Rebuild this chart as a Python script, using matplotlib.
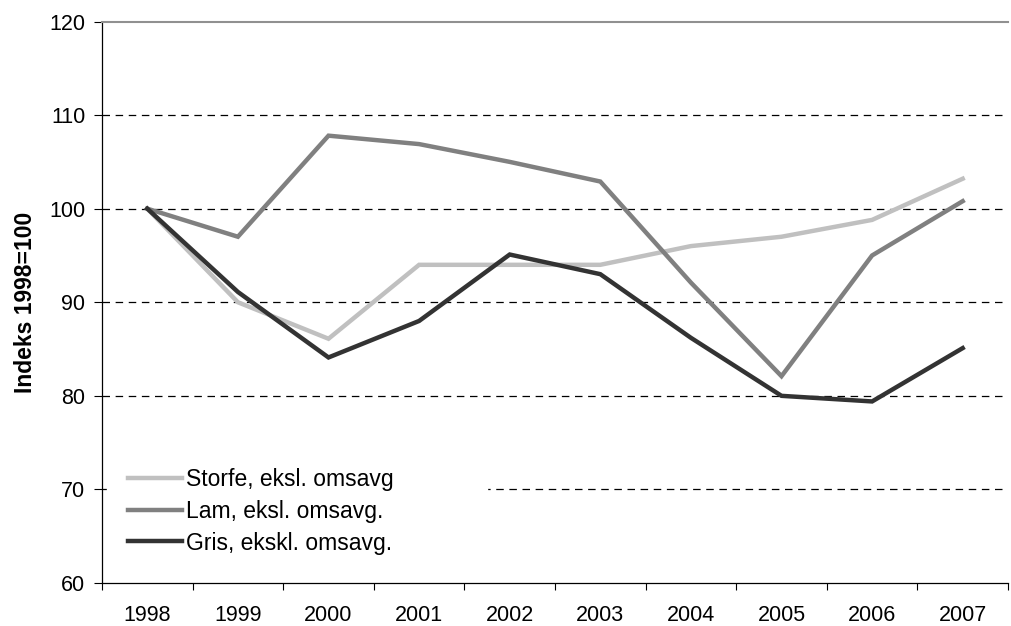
import matplotlib
matplotlib.use("Agg")
import matplotlib.pyplot as plt
import numpy as np

plt.rcParams['font.family'] = ['Liberation Sans', 'DejaVu Sans']

years = ["1998", "1999", "2000", "2001", "2002", "2003", "2004", "2005", "2006", "2007"]
storfe = [100, 90.0, 86.1, 94.0, 94.0, 94.0, 96.0, 97.0, 98.8, 103.2]
lam = [100, 97.0, 107.8, 106.9, 105.0, 102.9, 92.1, 82.1, 95.0, 100.8]
gris = [100, 91.1, 84.1, 88.0, 95.1, 93.0, 86.2, 80.0, 79.4, 85.1]

labels = ["Storfe, eksl. omsavg", "Lam, eksl. omsavg.", "Gris, ekskl. omsavg."]
colors = ["#c0c0c0", "#808080", "#333333"]
ylabel = "Indeks 1998=100"
yticks = [60, 70, 80, 90, 100, 110, 120]

fig = plt.figure(figsize=(10.11, 6.26), dpi=100)
ax = fig.add_axes([102/1011, 1-583/626, 906/1011, (583-21.5)/626])

x = np.arange(len(years))
for vals, lab, c in zip([storfe, lam, gris], labels, colors):
    ax.plot(x, vals, color=c, lw=3.2, label=lab, solid_joinstyle='miter', zorder=3)

ax.set_xlim(-0.5, len(years)-0.5)
ax.set_ylim(60, 120)
ax.set_yticks(yticks)
ax.set_yticklabels([str(v) for v in yticks], fontsize=15.5)
ax.set_xticks(x)
ax.set_xticklabels(years, fontsize=15.5)
ax.set_xticks(np.arange(-0.5, len(years)), minor=True)
ax.tick_params(axis='x', which='major', length=0, pad=16)
ax.tick_params(axis='x', which='minor', length=5, width=0.8, direction='out')
ax.tick_params(axis='y', which='major', length=6, width=0.8, direction='out', pad=6)

for yv in yticks[1:-1]:
    ax.axhline(yv, color='black', lw=0.9, ls=(0, (6, 4.5)), zorder=1)

ax.spines['right'].set_visible(False)
ax.spines['top'].set_color('#909090')
ax.spines['top'].set_linewidth(1.5)
ax.spines['left'].set_linewidth(0.9)
ax.spines['bottom'].set_linewidth(0.9)

ax.set_ylabel(ylabel, fontsize=16.5, fontweight='bold', labelpad=9)

leg = ax.legend(loc='lower left', bbox_to_anchor=(0.006, 0.014, 0.419, 0.24),
                mode='expand', borderaxespad=0, prop={'size': 16.5}, frameon=True,
                fancybox=False, handlelength=2.35, handletextpad=0.2,
                labelspacing=0.38, borderpad=0.9)
leg.get_frame().set_facecolor('white')
leg.get_frame().set_edgecolor('white')
leg.get_frame().set_alpha(1)
leg.set_zorder(5)

fig.savefig("out.png", dpi=100)
